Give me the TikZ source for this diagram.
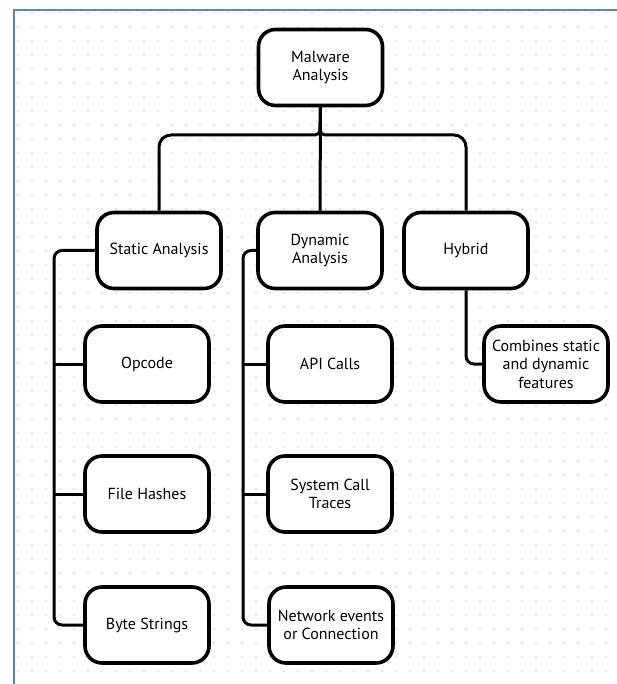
\documentclass[tikz,border=0pt]{standalone}
\usepackage{fontspec}
\setmainfont{PT Sans}
\definecolor{dotc}{RGB}{200,200,200}
\definecolor{framec}{RGB}{85,135,200}
\begin{document}
\begin{tikzpicture}[x=1pt,y=-1pt,
  box/.style={draw=black, line width=3.6pt, rounded corners=17pt, fill=white,
    minimum width=124pt, minimum height=76pt, align=center, inner sep=0pt,
    font=\fontsize{16}{18.5}\selectfont},
  conn/.style={draw=black, line width=3pt},
  frameline/.style={draw=framec, line width=2pt}]
\useasboundingbox (0,0) rectangle (617,684);
\fill[white] (0,0) rectangle (617,684);
\foreach \i in {0,...,42} {
  \foreach \j in {0,...,48} {
    \fill[dotc] (18+14*\i, 13+14*\j) circle (0.8pt);
  }
}
\draw[frameline] (13.5,684) -- (13.5,10.5) -- (617,10.5);

% coordinates for connector routing
\coordinate (jn) at (320,135);
\coordinate (jl) at (250,135);
\coordinate (jr) at (390,135);
\coordinate (sl) at (54,450);
\coordinate (dl) at (243,450);

% nodes
\node[box] (mal) at (320.5,67.5) {Malware\\Analysis};
\node[box] (sta) at (159,250.5) {Static Analysis};
\node[box] (dyn) at (320,250.5) {Dynamic\\Analysis};
\node[box] (hyb) at (466,250.5) {Hybrid};
\node[box] (opc) at (147,364) {Opcode};
\node[box] (fil) at (147,494) {File Hashes};
\node[box] (byt) at (147,625) {Byte Strings};
\node[box] (api) at (330,364) {API Calls};
\node[box] (sys) at (330,494) {System Call\\Traces};
\node[box] (net) at (331,625) {Network events\\or Connection};
\node[box] (com) at (546,364) {Combines static\\and dynamic\\features};

% top connectors
\draw[conn] (mal.south) -- (dyn.north);
\draw[conn, rounded corners=5pt] (mal.south) -- (jn) -- (jl);
\draw[conn, rounded corners=5pt] (mal.south) -- (jn) -- (jr);
\draw[conn, rounded corners=12pt] (jl) -| (sta.north);
\draw[conn, rounded corners=12pt] (jr) -| (hyb.north);

% static branch
\draw[conn, rounded corners=8pt] (sta.west) -| (sl) |- (byt.west);
\draw[conn] (sl |- opc.west) -- (opc.west);
\draw[conn] (sl |- fil.west) -- (fil.west);

% dynamic branch
\draw[conn, rounded corners=8pt] (dyn.west) -| (dl) |- (net.west);
\draw[conn] (dl |- api.west) -- (api.west);
\draw[conn] (dl |- sys.west) -- (sys.west);

% hybrid branch
\draw[conn, rounded corners=8pt] (hyb.south) |- (com.west);
\end{tikzpicture}
\end{document}
